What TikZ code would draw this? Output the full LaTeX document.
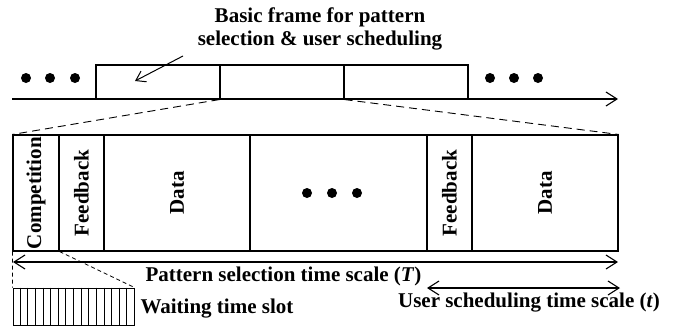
\documentclass[tikz,border=0pt]{standalone}
\usepackage{fontspec}
\setmainfont{Liberation Serif}
\usetikzlibrary{arrows.meta,calc}
\begin{document}
\begin{tikzpicture}[x=1pt,y=-1pt,
  every node/.style={font=\fontsize{21}{23}\selectfont\bfseries},
  ln/.style={line width=1.1pt},
  frm/.style={draw, line width=1.1pt, inner sep=0pt, minimum height=34pt, minimum width=124pt},
  cell/.style={draw, line width=1.1pt, inner sep=0pt, minimum height=116pt},
  vlab/.style={rotate=90, inner sep=0pt},
  dotn/.style={circle, fill=black, inner sep=0pt, minimum size=10pt},
  tip/.style={-{Straight Barb[length=11pt,width=14pt]}},
  dtip/.style={{Straight Barb[length=11pt,width=14pt]}-{Straight Barb[length=11pt,width=14pt]}},
  zoomline/.style={dash pattern=on 8pt off 5pt, line width=0.9pt},
  slotline/.style={dash pattern=on 4pt off 3pt, line width=0.8pt}
]
\useasboundingbox (0,0) rectangle (675,327);

% top time line
\node[frm] (f1) at (158,82) {};
\node[frm] (f2) at (282,82) {};
\node[frm] (f3) at (406,82) {};
\coordinate (tl0) at (12,99);
\coordinate (tl1) at (618,99);
\draw[ln,tip] (tl0) -- (tl1);

\node[dotn] (ld1) at (26,78) {};
\node[dotn] (ld2) at (50,78) {};
\node[dotn] (ld3) at (75,78) {};
\node[dotn] (rd1) at (490,78) {};
\node[dotn] (rd2) at (514,78) {};
\node[dotn] (rd3) at (538,78) {};

\node[align=center, anchor=base] (title) at (320,45) {Basic frame for pattern\\selection \& user scheduling};
\coordinate (a0) at (183,56);
\coordinate (a1) at (135,81);
\draw[line width=1pt, -{Straight Barb[length=9pt,width=12pt]}] (a0) -- (a1);

% expanded frame
\node[cell, minimum width=46pt] (comp) at (36,193) {};
\node[cell, minimum width=45pt] (fb1) at (81.5,193) {};
\node[cell, minimum width=146pt] (d1) at (177,193) {};
\node[cell, minimum width=177pt] (mid) at (338.5,193) {};
\node[cell, minimum width=45pt] (fb2) at (449.5,193) {};
\node[cell, minimum width=146pt] (d2) at (545,193) {};

\node[vlab] (compl) at (comp) {Competition};
\node[vlab] (fb1l) at (fb1) {Feedback};
\node[vlab] (d1l) at (d1) {Data};
\node[vlab] (fb2l) at (fb2) {Feedback};
\node[vlab] (d2l) at (d2) {Data};

\node[dotn] (md1) at (307,193) {};
\node[dotn] (md2) at (332,193) {};
\node[dotn] (md3) at (357,193) {};

\draw[zoomline] (f2.south west) -- (comp.north west);
\draw[zoomline] (f2.south east) -- (d2.north east);

% time scales
\coordinate (T0) at (13,262);
\coordinate (T1) at (618,262);
\draw[ln,dtip] (T0) -- (T1);
\node[anchor=base] (Tlab) at (283.5,281) {Pattern selection time scale (\textit{T})};
\coordinate (t0) at (427,288);
\coordinate (t1) at (620,288);
\draw[ln,dtip] (t0) -- (t1);
\node[anchor=base] (tlab) at (529,307) {User scheduling time scale (\textit{t})};

% waiting slots
\node[draw, line width=1pt, inner sep=0pt, minimum width=121pt, minimum height=37pt] (slots) at (73.5,306.5) {};
\foreach \i in {1,...,15} {
  \draw[line width=0.9pt] ($(slots.north west)!\i/16!(slots.north east)$) -- ($(slots.south west)!\i/16!(slots.south east)$);
}
\draw[slotline] (comp.south west) -- (slots.north west);
\draw[slotline] (comp.south east) -- (slots.north east);
\node[anchor=base west] (wlab) at (137,313) {Waiting time slot};
\end{tikzpicture}
\end{document}
